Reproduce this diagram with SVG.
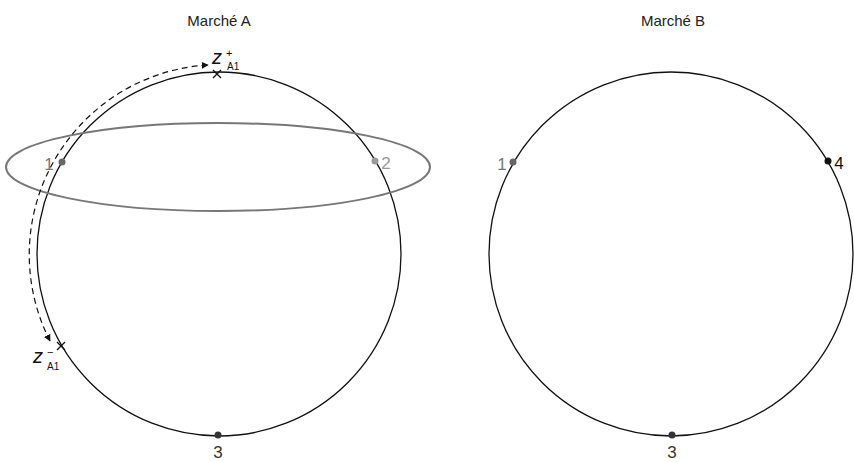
<svg xmlns="http://www.w3.org/2000/svg" width="854" height="462" viewBox="0 0 854 462">
<defs>
<style>
text{font-family:"Liberation Sans",Arial,sans-serif;}
.title{font-size:15px;fill:#222;text-anchor:middle;}
.num{font-size:17px;}
.circ{fill:none;stroke:#111;stroke-width:1.3;}
.mark{stroke:#111;stroke-width:1.3;}
.z{font-size:20px;font-style:italic;fill:#111;}
.sub{font-size:10px;fill:#111;}
.sup{font-size:11px;fill:#111;}
</style>
<marker id="ah" viewBox="0 0 10 10" refX="9" refY="5" markerWidth="7" markerHeight="7" markerUnits="userSpaceOnUse" orient="auto-start-reverse">
<path d="M0,0 L10,5 L0,10 Z" fill="#111"/>
</marker>
</defs>
<rect width="854" height="462" fill="#fff"/>
<text class="title" x="219" y="26">Marché A</text>
<text class="title" x="673" y="26">Marché B</text>
<g id="marketA">
<circle class="circ" cx="219" cy="254" r="182"/>
</g>
<g id="ellipse">
<ellipse cx="218" cy="167" rx="212" ry="44" fill="none" stroke="#777" stroke-width="2"/>
</g>
<g id="marketB">
<circle class="circ" cx="671" cy="254" r="182"/>
</g>
<g id="connectors">
<path d="M 50 341 A 190 190 0 0 1 208 65" fill="none" stroke="#111" stroke-width="1.2" stroke-dasharray="6 4" marker-start="url(#ah)" marker-end="url(#ah)"/>
</g>
<g id="A1">
<circle cx="62" cy="162" r="3.5" fill="#666"/>
<text class="num" x="49" y="170" fill="#777" text-anchor="middle">1</text>
</g>
<g id="A2">
<circle cx="375" cy="161" r="3.5" fill="#999"/>
<text class="num" x="386" y="169" fill="#999" text-anchor="middle">2</text>
</g>
<g id="A3">
<circle cx="218" cy="435" r="3.5" fill="#333"/>
<text class="num" x="218" y="458" fill="#333" text-anchor="middle">3</text>
</g>
<g id="zplus">
<path class="mark" d="M213,70 L221,78 M221,70 L213,78"/>
<text class="z" x="212" y="64">z</text>
<text class="sup" x="226" y="57">+</text>
<text class="sub" x="227" y="70">A1</text>
</g>
<g id="zminus">
<path class="mark" d="M57,342 L65,350 M65,342 L57,350"/>
<text class="z" x="33" y="363">z</text>
<text class="sup" x="47" y="356">−</text>
<text class="sub" x="47" y="370">A1</text>
</g>
<g id="B1">
<circle cx="513" cy="162" r="3.5" fill="#666"/>
<text class="num" x="502" y="170" fill="#777" text-anchor="middle">1</text>
</g>
<g id="B4">
<circle cx="828" cy="161" r="3.5" fill="#111"/>
<text class="num" x="839" y="169" fill="#111" text-anchor="middle">4</text>
</g>
<g id="B3">
<circle cx="672" cy="435" r="3.5" fill="#333"/>
<text class="num" x="672" y="458" fill="#333" text-anchor="middle">3</text>
</g>
</svg>
